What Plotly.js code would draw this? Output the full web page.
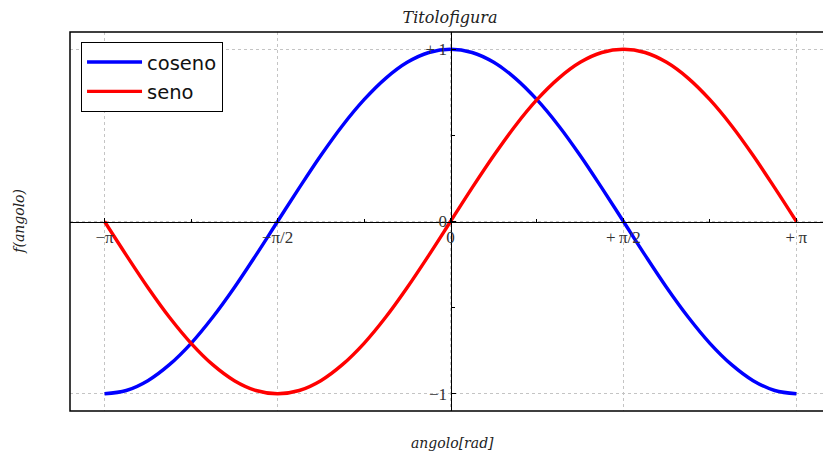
<!DOCTYPE html>
<html>
<head>
<meta charset="utf-8">
<script src="https://cdn.plot.ly/plotly-3.0.1.min.js"></script>
<style>
  html, body { margin: 0; padding: 0; overflow: hidden; background: #fff; }
  #chart { width: 835px; height: 457px; }
</style>
</head>
<body>
<div id="chart"></div>
<script>
// Angle samples (radians), every pi/16 from -pi to +pi
const angolo = [-3.142, -2.945, -2.749, -2.553, -2.356, -2.160, -1.963, -1.767,
                -1.571, -1.374, -1.178, -0.982, -0.785, -0.589, -0.393, -0.196,
                0, 0.196, 0.393, 0.589, 0.785, 0.982, 1.178, 1.374,
                1.571, 1.767, 1.963, 2.160, 2.356, 2.553, 2.749, 2.945, 3.142];
const coseno = [-1, -0.981, -0.924, -0.831, -0.707, -0.556, -0.383, -0.195,
                0, 0.195, 0.383, 0.556, 0.707, 0.831, 0.924, 0.981,
                1, 0.981, 0.924, 0.831, 0.707, 0.556, 0.383, 0.195,
                0, -0.195, -0.383, -0.556, -0.707, -0.831, -0.924, -0.981, -1];
const seno   = [0, -0.195, -0.383, -0.556, -0.707, -0.831, -0.924, -0.981,
                -1, -0.981, -0.924, -0.831, -0.707, -0.556, -0.383, -0.195,
                0, 0.195, 0.383, 0.556, 0.707, 0.831, 0.924, 0.981,
                1, 0.981, 0.924, 0.831, 0.707, 0.556, 0.383, 0.195, 0];

// Axis ticks
const xTickVals = [-3.1416, -1.5708, 0, 1.5708, 3.1416];
const xTickText = ['\u2212\u03c0', '\u2212\u03c0/2', '0', '+\u2009\u03c0/2', '+\u2009\u03c0'];
const xMinorVals = [-2.3562, -0.7854, 0.7854, 2.3562];
const yTickVals = [-1, 0, 1];
const yTickText = ['\u22121', '0', '+\u20091'];
const yMinorVals = [-0.5, 0.5];

const serif = 'DejaVu Serif, serif';
const tickSerif = 'Liberation Serif, DejaVu Serif, serif';

const traces = [
  { x: angolo, y: coseno, name: 'coseno', mode: 'lines', legendgroup: 'a',
    line: { color: '#0000ff', width: 3.4, shape: 'spline', smoothing: 1 } },
  { x: angolo, y: seno, name: 'seno', mode: 'lines', legendgroup: 'b',
    line: { color: '#ff0000', width: 3.4, shape: 'spline', smoothing: 1 } }
];

const axisCommon = {
  showline: true, linecolor: '#000', linewidth: 1.5,
  zeroline: false,
  showgrid: true, gridcolor: '#c4c4c4', gridwidth: 1, griddash: '3px,3px',
  ticks: 'inside', ticklen: 4, tickcolor: '#000', tickwidth: 1,
  tickfont: { family: tickSerif, size: 17, color: '#333' },
  anchor: 'free', position: 0.5,
  fixedrange: true
};

const layout = {
  width: 835, height: 457,
  margin: { l: 70, r: 4, t: 32, b: 46 },
  paper_bgcolor: '#fff', plot_bgcolor: '#fff',
  title: { text: 'Titolofigura', x: 0.539, xanchor: 'center', y: 0.962, yanchor: 'middle',
           font: { family: serif, size: 16, style: 'italic', color: '#222' } },
  xaxis: Object.assign({}, axisCommon, {
    range: [-3.456, 3.456], tickmode: 'array', tickvals: xTickVals, ticktext: xTickText,
    minor: { tickmode: 'array', tickvals: xMinorVals, ticks: 'inside', ticklen: 3,
             tickcolor: '#000', showgrid: false }
  }),
  yaxis: Object.assign({}, axisCommon, {
    range: [-1.1, 1.1], tickmode: 'array', tickvals: yTickVals, ticktext: yTickText,
    minor: { tickmode: 'array', tickvals: yMinorVals, ticks: 'inside', ticklen: 3,
             tickcolor: '#000', showgrid: false }
  }),
  showlegend: true,
  legend: {
    x: 0.0145, y: 0.974, xanchor: 'left', yanchor: 'top',
    bgcolor: '#fff', bordercolor: '#000', borderwidth: 1,
    font: { family: 'DejaVu Sans, sans-serif', size: 19.5, color: '#111' },
    itemwidth: 55,
    traceorder: 'grouped', tracegroupgap: 1
  },
  shapes: [
    { type: 'rect', xref: 'paper', yref: 'paper', x0: 0, x1: 1, y0: 0, y1: 1,
      line: { color: '#000', width: 1.5 }, layer: 'above' }
  ],
  annotations: [
    { text: 'angolo[rad]', xref: 'paper', yref: 'paper', x: 0.502, y: -0.085,
      xanchor: 'center', yanchor: 'middle', showarrow: false,
      font: { family: serif, size: 14, style: 'italic', color: '#222' } },
    { text: 'f(angolo)', xref: 'paper', yref: 'paper', x: -0.068, y: 0.5,
      xanchor: 'center', yanchor: 'middle', showarrow: false, textangle: -90,
      font: { family: serif, size: 14, style: 'italic', color: '#222' } }
  ]
};

Plotly.newPlot('chart', traces, layout, { displayModeBar: false, staticPlot: true });
</script>
</body>
</html>
